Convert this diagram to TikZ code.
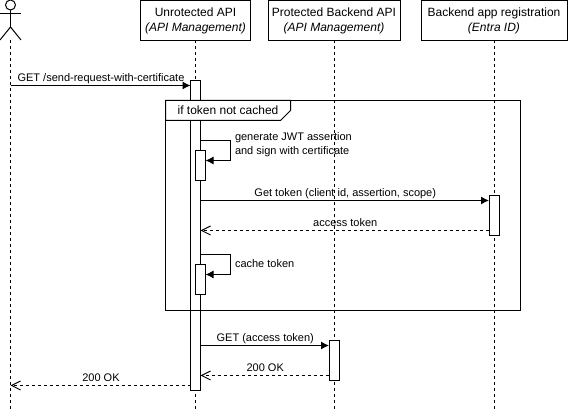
\documentclass[tikz,border=0pt]{standalone}
\usepackage{fontspec}
\setmainfont{Liberation Sans}
\usetikzlibrary{arrows.meta}
\tikzset{
  party/.style={draw, fill=white, minimum width=#1, minimum height=40pt, inner sep=0pt, outer sep=0pt, align=center, font=\fontsize{12}{15}\selectfont},
  activation/.style={draw, fill=white, minimum width=10pt, minimum height=#1, inner sep=0pt, outer sep=0pt},
  lifeline/.style={dashed, dash pattern=on 3pt off 3pt},
  msg/.style={-{Latex[length=8pt,width=8pt]}},
  reply/.style={dash pattern=on 3pt off 3pt, -{Straight Barb[length=9pt,width=9pt]}},
  msglabel/.style={inner sep=0pt, outer sep=0pt, text depth=2.3pt, xshift=0.5pt, font=\fontsize{11}{14}\selectfont},
  note/.style={inner sep=0pt, outer sep=0pt, anchor=west, align=left, font=\fontsize{11}{14}\selectfont}
}
\begin{document}
\begin{tikzpicture}[x=1pt, y=-1pt, line width=1pt, line join=miter]
  \useasboundingbox (0,0) rectangle (568,411);

  % Participants
  \node[party=110pt] (unprotected) at (195.5,20.5) {Unrotected API\\\textit{(API Management)}};
  \node[party=132pt] (protected) at (334,20.5) {Protected Backend API\\\textit{(API Management)}};
  \node[party=146pt] (entra) at (494,20.5) {Backend app registration\\\textit{(Entra ID)}};

  % Actor
  \coordinate (neck) at (10.5,10);
  \coordinate (hip) at (10.5,27);
  \coordinate (actorfoot) at (10.5,40);
  \draw (10.5,5) circle (5pt);
  \draw (neck) -- (hip);
  \draw (0,13.5) -- (21,13.5);
  \draw (0,40) -- (hip) -- (21,40);

  % Lifelines
  \coordinate (actorend) at (10.5,411);
  \draw[lifeline] (actorfoot) -- (actorend);
  \draw[lifeline] (unprotected.south) -- (unprotected.south |- actorend);
  \draw[lifeline] (protected.south) -- (protected.south |- actorend);
  \draw[lifeline] (entra.south) -- (entra.south |- actorend);

  % Activations
  \node[activation=310pt] (mainact) at (195.5,235.5) {};
  \node[activation=30pt] (signact) at (200.5,165.5) {};
  \node[activation=30pt] (cacheact) at (200.5,279.5) {};
  \node[activation=40pt] (entraact) at (494,215.5) {};
  \node[activation=40pt] (protectedact) at (334,360.5) {};

  % Frame
  \coordinate (frametl) at (165.5,100.5);
  \coordinate (framebr) at (520.5,310.5);
  \draw (frametl) rectangle (framebr);
  \draw[fill=white] (frametl) -- (290.5,100.5) -- (290.5,110.5) -- (280.5,120.5) -- (165.5,120.5) -- cycle;
  \node[font=\fontsize{12}{15}\selectfont, inner sep=0pt] (frametitle) at (228,110.5) {if token not cached};

  % Messages
  \coordinate (request) at (10.5,85.5);
  \draw[msg] (request) -- (request -| mainact.west)
    node[msglabel, midway, above=1.7pt] (requestlabel) {GET /send-request-with-certificate};

  \coordinate (signa) at (200.5,140.5);
  \coordinate (signb) at (230.5,140.5);
  \coordinate (signc) at (230.5,160.5);
  \draw[msg] (signa) -- (signb) -- (signc) -- (signc -| signact.east);
  \node[note] (signlabel) at (235,145) {generate JWT assertion\\and sign with certificate};

  \coordinate (gettoken) at (200.5,200.5);
  \draw[msg] (gettoken) -- (gettoken -| entraact.west)
    node[msglabel, midway, above=1.7pt] (gettokenlabel) {Get token (client id, assertion, scope)};

  \coordinate (accesstoken) at (200.5,230.5);
  \draw[reply] (accesstoken -| entraact.west) -- (accesstoken)
    node[msglabel, midway, above=1.7pt] (accesslabel) {access token};

  \coordinate (cachea) at (200.5,254.5);
  \coordinate (cacheb) at (230.5,254.5);
  \coordinate (cachec) at (230.5,274.5);
  \draw[msg] (cachea) -- (cacheb) -- (cachec) -- (cachec -| cacheact.east);
  \node[note] (cachelabel) at (235,263.5) {cache token};

  \coordinate (getbackend) at (200.5,345.5);
  \draw[msg] (getbackend) -- (getbackend -| protectedact.west)
    node[msglabel, midway, above=1.7pt] (getbackendlabel) {GET (access token)};

  \coordinate (okbackend) at (200.5,375.5);
  \draw[reply] (okbackend -| protectedact.west) -- (okbackend)
    node[msglabel, midway, above=1.7pt] (okbackendlabel) {200 OK};

  \coordinate (okclient) at (10.5,385.5);
  \draw[reply] (okclient -| mainact.west) -- (okclient)
    node[msglabel, midway, above=1.7pt] (okclientlabel) {200 OK};
\end{tikzpicture}
\end{document}
